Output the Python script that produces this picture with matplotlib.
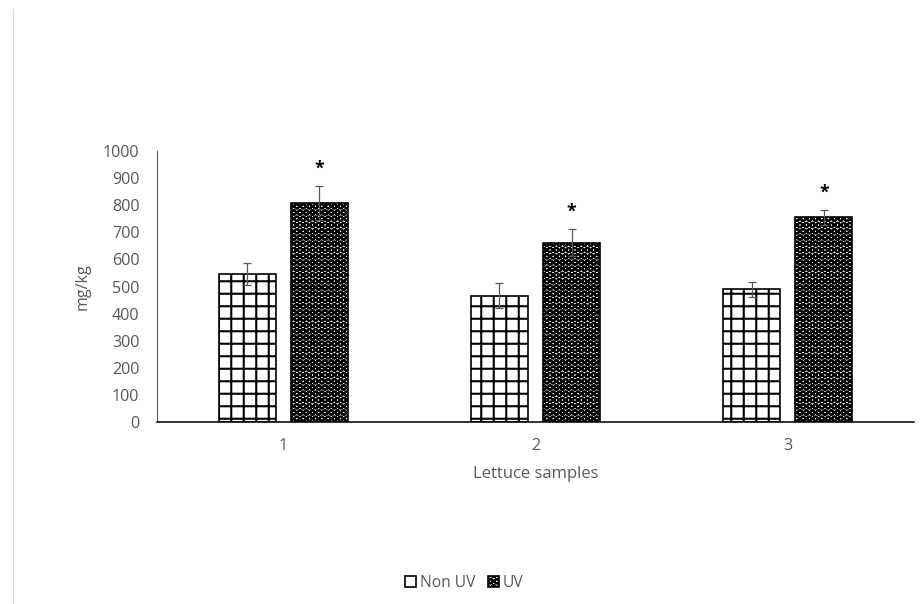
import numpy as np
import matplotlib.pyplot as plt
from matplotlib.lines import Line2D
from matplotlib.patches import Patch

# lettuce samples, mean content with standard deviation
samples = ['1', '2', '3']
non_uv = [546, 466, 490]
non_uv_err = [41, 46, 27]
uv = [808, 662, 755]
uv_err = [63, 50, 27]
marks = ['*', '*', '*']

plt.rcParams['font.family'] = ['Open Sans', 'DejaVu Sans']
plt.rcParams['hatch.linewidth'] = 2.0
grey = '#595959'

DPI = 75
fig = plt.figure(figsize=(920 / DPI, 604 / DPI), dpi=DPI)
ax = fig.add_axes([0.1707, 0.3013, 0.8228, 0.4487])

x = np.arange(len(samples))
w = 0.226
off = 0.143

ax.bar(x - off, non_uv, w, color='white', edgecolor='black',
       hatch='+', linewidth=1.6, zorder=2)
ax.bar(x + off, uv, w, color='white', edgecolor='black',
       hatch='OO', linewidth=1.6, zorder=2)

ax.errorbar(x - off, non_uv, yerr=non_uv_err, fmt='none', ecolor=grey,
            elinewidth=1.2, capsize=4, capthick=1.2, zorder=3)
ax.errorbar(x + off, uv, yerr=uv_err, fmt='none', ecolor=grey,
            elinewidth=1.2, capsize=4, capthick=1.2, zorder=3)

# significance marks over the UV bars
for xi, v, e, m in zip(x + off, uv, uv_err, marks):
    ax.text(xi, v + e + 65, m, ha='center', va='center', fontsize=17,
            fontweight='bold', color='black')

ax.set_xlim(-0.5, 2.5)
ax.set_ylim(0, 1000)
ax.set_yticks(np.arange(0, 1001, 100))
ax.set_xticks(x)
ax.set_xticklabels(samples)
ax.tick_params(axis='both', length=0, labelsize=15.5, colors=grey)
ax.tick_params(axis='y', pad=17)
ax.tick_params(axis='x', pad=15)

for s in ['top', 'right']:
    ax.spines[s].set_visible(False)
ax.spines['left'].set_color(grey)
ax.spines['left'].set_linewidth(1.0)
ax.spines['bottom'].set_color('black')
ax.spines['bottom'].set_linewidth(1.5)

ax.set_ylabel('mg/kg', fontsize=15.5, color=grey, labelpad=12)
ax.set_xlabel('Lettuce samples', fontsize=16, color=grey, labelpad=12)

# legend keys: the grid is too coarse to show in a small box
handles = [Patch(facecolor='white', edgecolor='black', linewidth=1.6, label='Non UV'),
           Patch(facecolor='white', edgecolor='black', hatch='OO', linewidth=1.6, label='UV')]
fig.legend(handles=handles, loc='center', bbox_to_anchor=(0.505, 0.035),
           ncol=2, frameon=False, fontsize=15, labelcolor=grey,
           handlelength=0.7, handleheight=0.7, handletextpad=0.25,
           columnspacing=0.8)

# thin frame edge on the left side
fig.add_artist(Line2D([0.014, 0.014], [0.0, 0.985], transform=fig.transFigure,
                      color='#d9d9d9', linewidth=1.2))

fig.savefig('out.png', dpi=DPI, facecolor='white')
